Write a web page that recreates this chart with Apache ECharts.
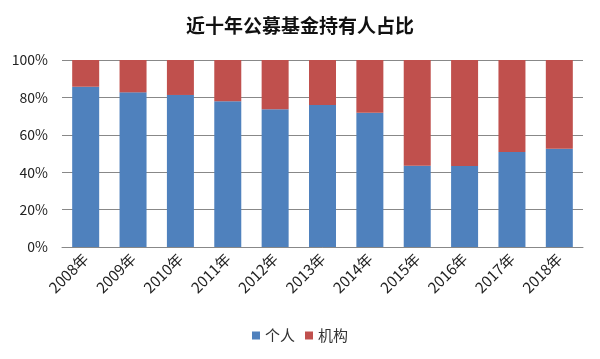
<!DOCTYPE html>
<html><head><meta charset="utf-8">
<script src="https://cdn.jsdelivr.net/npm/echarts@6/dist/echarts.min.js"></script>
<style>html,body{margin:0;padding:0;background:#fff}#c{width:600px;height:359px}</style>
</head><body><div id="c"></div>
<script>
const categories = ['2008年','2009年','2010年','2011年','2012年','2013年','2014年','2015年','2016年','2017年','2018年'];
const individual = [85.7, 82.7, 81.3, 77.9, 73.6, 75.9, 71.8, 43.5, 43.3, 50.8, 52.6];
const institution = [14.3, 17.3, 18.7, 22.1, 26.4, 24.1, 28.2, 56.5, 56.7, 49.2, 47.4];
const yTicks = [0, 20, 40, 60, 80, 100];
const seriesNames = ['个人', '机构'];

const chart = echarts.init(document.getElementById('c'), null, {renderer: 'canvas'});
const font = '"Noto Sans CJK SC", "Noto Sans", sans-serif';
chart.setOption({
  animation: false,
  title: {
    text: '近十年公募基金持有人占比', left: 'center', top: 11,
    textStyle: {fontFamily: font, fontSize: 19, fontWeight: 'bold', color: '#111'}
  },
  legend: {
    data: seriesNames, top: 323, left: 'center', itemWidth: 8, itemHeight: 8, itemGap: 10,
    icon: 'rect',
    textStyle: {fontFamily: font, fontSize: 15, color: '#333'}
  },
  grid: {left: 62, right: 17, top: 60, bottom: 112, containLabel: false},
  xAxis: {
    type: 'category', data: categories,
    axisLine: {lineStyle: {color: '#888'}},
    axisTick: {show: false},
    axisLabel: {rotate: 45, fontFamily: font, fontSize: 15, color: '#222', margin: 9, interval: 0}
  },
  yAxis: {
    type: 'value', min: 0, max: 100, interval: 20,
    axisLine: {show: false}, axisTick: {show: false},
    splitLine: {lineStyle: {color: '#888'}},
    axisLabel: {
      fontFamily: font, fontSize: 14, color: '#222', margin: 14,
      formatter: v => (yTicks.includes(v) ? v + '%' : '')
    }
  },
  series: [
    {name: seriesNames[0], type: 'bar', stack: 'a', data: individual, barCategoryGap: '43%',
     itemStyle: {color: '#4F81BD'}},
    {name: seriesNames[1], type: 'bar', stack: 'a', data: institution,
     itemStyle: {color: '#C0504D'}}
  ]
});
</script></body></html>
